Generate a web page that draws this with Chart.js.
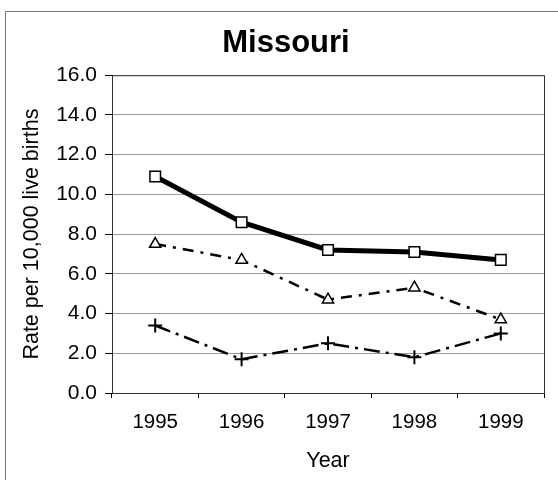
<!DOCTYPE html>
<html>
<head>
<meta charset="utf-8">
<script src="https://cdn.jsdelivr.net/npm/chart.js@4.4.0/dist/chart.umd.min.js"></script>
<style>
  body { margin: 0; background: #fff; overflow: hidden; }
  #frame { position: absolute; left: 5px; top: 11px; width: 600px; height: 600px;
           border-left: 1px solid #777; border-top: 1px solid #777; }
  #chart { position: absolute; left: 0; top: 0; }
</style>
</head>
<body>
<div id="frame"></div>
<canvas id="chart" width="558" height="480"></canvas>
<script>
    const years = ['1995', '1996', '1997', '1998', '1999'];
    const squareRates = [10.9, 8.6, 7.2, 7.1, 6.7];
    const triangleRates = [7.5, 6.7, 4.7, 5.3, 3.7];
    const plusRates = [3.4, 1.7, 2.5, 1.8, 3.0];
    const yTicks = [0, 2, 4, 6, 8, 10, 12, 14, 16];

    const font = 'Liberation Sans, Arial, sans-serif';

    // dark frame round the plot area
    const plotFrame = {
        id: 'plotFrame',
        beforeDatasetsDraw(chart) {
            const a = chart.chartArea;
            const ctx = chart.ctx;
            ctx.save();
            ctx.strokeStyle = '#333';
            ctx.lineWidth = 1;
            ctx.strokeRect(a.left + 0.5, a.top + 0.5, a.right - a.left, a.bottom - a.top);
            ctx.restore();
        }
    };

    const ctx = document.getElementById('chart').getContext('2d');
    new Chart(ctx, {
        type: 'line',
        data: {
            labels: years,
            datasets: [
                {
                    data: plusRates,
                    borderColor: '#000',
                    borderWidth: 2.5,
                    borderDash: [16, 6, 3, 6],
                    pointStyle: 'cross',
                    pointRadius: 7,
                    pointBorderWidth: 2,
                    pointBorderColor: '#000',
                    tension: 0
                },
                {
                    data: triangleRates,
                    borderColor: '#000',
                    borderWidth: 2.5,
                    borderDash: [11, 7, 3, 7],
                    pointStyle: 'triangle',
                    pointRadius: 6.5,
                    pointBorderWidth: 1.5,
                    pointBackgroundColor: '#fff',
                    pointBorderColor: '#000',
                    tension: 0
                },
                {
                    data: squareRates,
                    borderColor: '#000',
                    borderWidth: 5,
                    pointStyle: 'rect',
                    pointRadius: 7.5,
                    pointBorderWidth: 1.5,
                    pointBackgroundColor: '#fff',
                    pointBorderColor: '#000',
                    tension: 0
                }
            ]
        },
        options: {
            responsive: false,
            animation: false,
            devicePixelRatio: 1,
            layout: { padding: { top: 25, left: 28, right: 14, bottom: 0 } },
            plugins: {
                legend: { display: false },
                tooltip: { enabled: false },
                title: {
                    display: true,
                    text: 'Missouri',
                    color: '#000',
                    font: { family: font, size: 31, weight: 'bold' },
                    padding: { top: 0, bottom: 13 }
                }
            },
            scales: {
                x: {
                    offset: true,
                    grid: { offset: true, drawOnChartArea: false, tickColor: '#000', tickLength: 5 },
                    border: { color: '#000' },
                    ticks: { color: '#000', font: { family: font, size: 20.5 }, padding: 12 },
                    title: {
                        display: true,
                        text: 'Year',
                        color: '#000',
                        font: { family: font, size: 21.5 },
                        padding: { top: 4, bottom: 6 }
                    },
                    afterFit: scale => { scale.height = 87; }
                },
                y: {
                    min: 0,
                    max: 16,
                    afterBuildTicks: scale => { scale.ticks = yTicks.map(v => ({ value: v })); },
                    grid: { color: '#999', tickColor: '#000', tickLength: 7 },
                    border: { color: '#000' },
                    ticks: {
                        color: '#000',
                        font: { family: font, size: 21 },
                        padding: 8,
                        callback: v => v.toFixed(1)
                    },
                    title: {
                        display: true,
                        text: 'Rate per 10,000 live births',
                        color: '#000',
                        font: { family: font, size: 21.5 },
                        padding: { top: -9, bottom: 4 }
                    },
                    afterFit: scale => { scale.width = 84; }
                }
            }
        },
        plugins: [plotFrame]
    });
</script>
</body>
</html>
